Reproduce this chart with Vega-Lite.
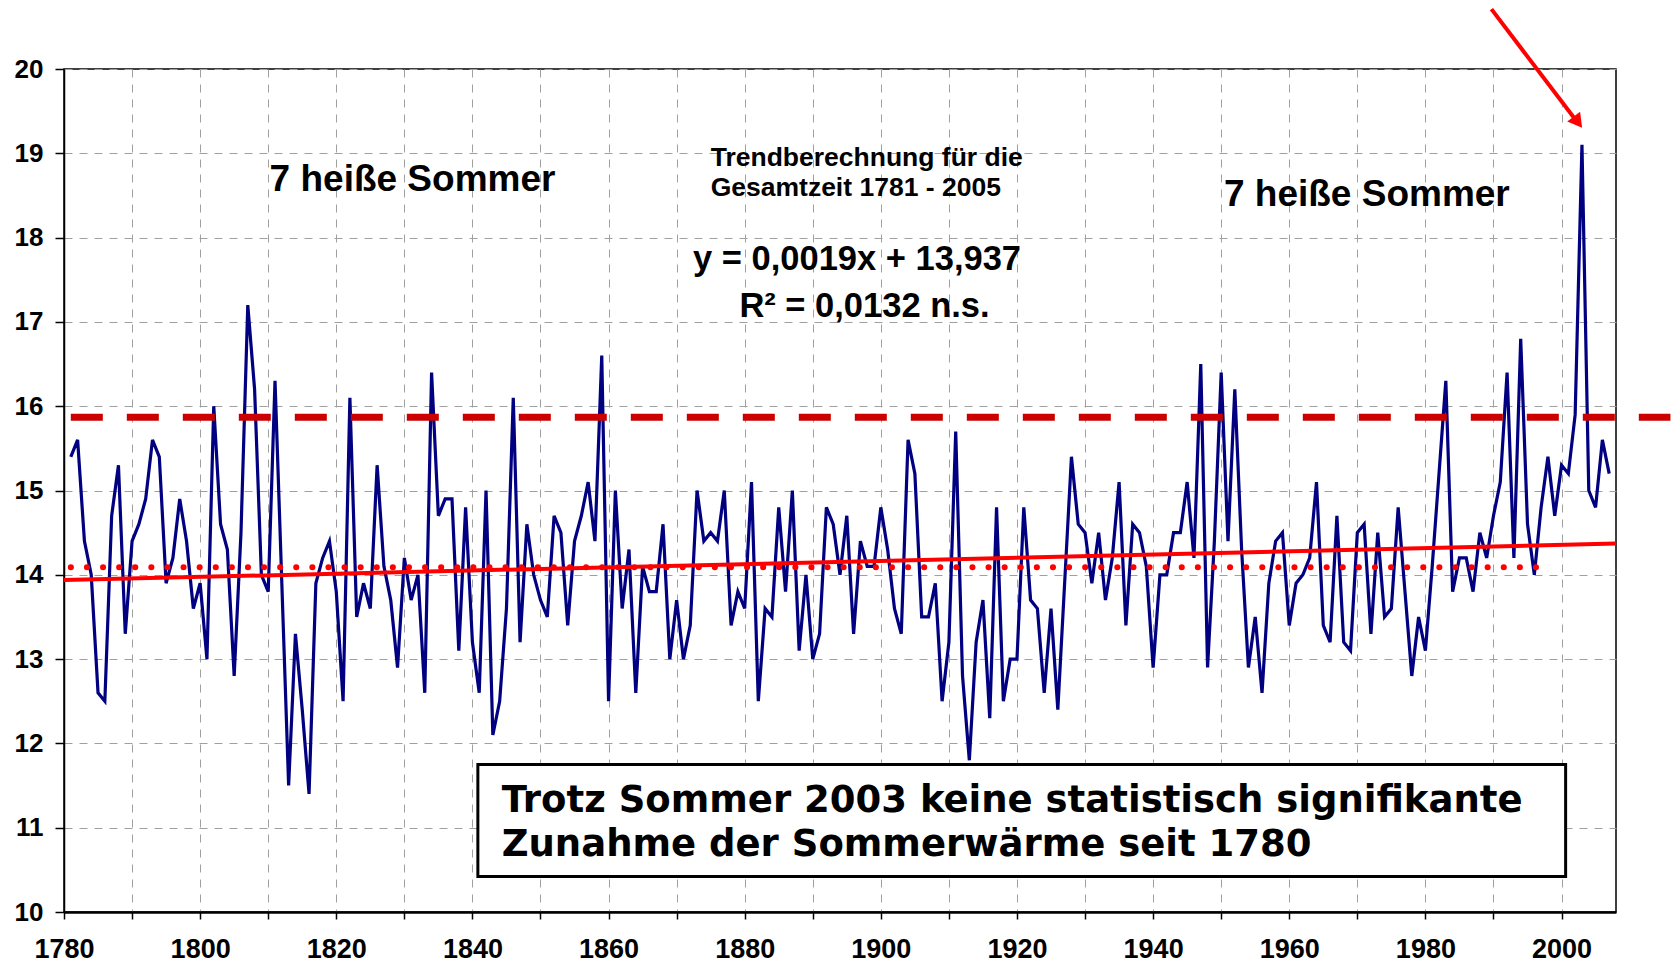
{
  "$schema": "https://vega.github.io/schema/vega-lite/v6.json",
  "width": 1552,
  "height": 843,
  "autosize": {"type": "none"},
  "padding": {"left": 64, "top": 69, "right": 57, "bottom": 50},
  "background": "white",
  "config": {
    "view": {"stroke": "#000000", "strokeWidth": 1.5},
    "text": {"font": "Liberation Sans", "fontWeight": "bold", "color": "#000000"}
  },
  "datasets": {
    "summer": [
      {"year":1781,"temp":15.4},{"year":1782,"temp":15.6},{"year":1783,"temp":14.4},{"year":1784,"temp":14.0},{"year":1785,"temp":12.6},
      {"year":1786,"temp":12.5},{"year":1787,"temp":14.7},{"year":1788,"temp":15.3},{"year":1789,"temp":13.3},{"year":1790,"temp":14.4},
      {"year":1791,"temp":14.6},{"year":1792,"temp":14.9},{"year":1793,"temp":15.6},{"year":1794,"temp":15.4},{"year":1795,"temp":13.9},
      {"year":1796,"temp":14.2},{"year":1797,"temp":14.9},{"year":1798,"temp":14.4},{"year":1799,"temp":13.6},{"year":1800,"temp":13.9},
      {"year":1801,"temp":13.0},{"year":1802,"temp":16.0},{"year":1803,"temp":14.6},{"year":1804,"temp":14.3},{"year":1805,"temp":12.8},
      {"year":1806,"temp":14.5},{"year":1807,"temp":17.2},{"year":1808,"temp":16.2},{"year":1809,"temp":14.0},{"year":1810,"temp":13.8},
      {"year":1811,"temp":16.3},{"year":1812,"temp":13.9},{"year":1813,"temp":11.5},{"year":1814,"temp":13.3},{"year":1815,"temp":12.4},
      {"year":1816,"temp":11.4},{"year":1817,"temp":13.9},{"year":1818,"temp":14.2},{"year":1819,"temp":14.4},{"year":1820,"temp":13.8},
      {"year":1821,"temp":12.5},{"year":1822,"temp":16.1},{"year":1823,"temp":13.5},{"year":1824,"temp":13.9},{"year":1825,"temp":13.6},
      {"year":1826,"temp":15.3},{"year":1827,"temp":14.1},{"year":1828,"temp":13.7},{"year":1829,"temp":12.9},{"year":1830,"temp":14.2},
      {"year":1831,"temp":13.7},{"year":1832,"temp":14.0},{"year":1833,"temp":12.6},{"year":1834,"temp":16.4},{"year":1835,"temp":14.7},
      {"year":1836,"temp":14.9},{"year":1837,"temp":14.9},{"year":1838,"temp":13.1},{"year":1839,"temp":14.8},{"year":1840,"temp":13.2},
      {"year":1841,"temp":12.6},{"year":1842,"temp":15.0},{"year":1843,"temp":12.1},{"year":1844,"temp":12.5},{"year":1845,"temp":13.6},
      {"year":1846,"temp":16.1},{"year":1847,"temp":13.2},{"year":1848,"temp":14.6},{"year":1849,"temp":14.0},{"year":1850,"temp":13.7},
      {"year":1851,"temp":13.5},{"year":1852,"temp":14.7},{"year":1853,"temp":14.5},{"year":1854,"temp":13.4},{"year":1855,"temp":14.4},
      {"year":1856,"temp":14.7},{"year":1857,"temp":15.1},{"year":1858,"temp":14.4},{"year":1859,"temp":16.6},{"year":1860,"temp":12.5},
      {"year":1861,"temp":15.0},{"year":1862,"temp":13.6},{"year":1863,"temp":14.3},{"year":1864,"temp":12.6},{"year":1865,"temp":14.1},
      {"year":1866,"temp":13.8},{"year":1867,"temp":13.8},{"year":1868,"temp":14.6},{"year":1869,"temp":13.0},{"year":1870,"temp":13.7},
      {"year":1871,"temp":13.0},{"year":1872,"temp":13.4},{"year":1873,"temp":15.0},{"year":1874,"temp":14.4},{"year":1875,"temp":14.5},
      {"year":1876,"temp":14.4},{"year":1877,"temp":15.0},{"year":1878,"temp":13.4},{"year":1879,"temp":13.8},{"year":1880,"temp":13.6},
      {"year":1881,"temp":15.1},{"year":1882,"temp":12.5},{"year":1883,"temp":13.6},{"year":1884,"temp":13.5},{"year":1885,"temp":14.8},
      {"year":1886,"temp":13.8},{"year":1887,"temp":15.0},{"year":1888,"temp":13.1},{"year":1889,"temp":14.0},{"year":1890,"temp":13.0},
      {"year":1891,"temp":13.3},{"year":1892,"temp":14.8},{"year":1893,"temp":14.6},{"year":1894,"temp":14.0},{"year":1895,"temp":14.7},
      {"year":1896,"temp":13.3},{"year":1897,"temp":14.4},{"year":1898,"temp":14.1},{"year":1899,"temp":14.1},{"year":1900,"temp":14.8},
      {"year":1901,"temp":14.3},{"year":1902,"temp":13.6},{"year":1903,"temp":13.3},{"year":1904,"temp":15.6},{"year":1905,"temp":15.2},
      {"year":1906,"temp":13.5},{"year":1907,"temp":13.5},{"year":1908,"temp":13.9},{"year":1909,"temp":12.5},{"year":1910,"temp":13.2},
      {"year":1911,"temp":15.7},{"year":1912,"temp":12.8},{"year":1913,"temp":11.8},{"year":1914,"temp":13.2},{"year":1915,"temp":13.7},
      {"year":1916,"temp":12.3},{"year":1917,"temp":14.8},{"year":1918,"temp":12.5},{"year":1919,"temp":13.0},{"year":1920,"temp":13.0},
      {"year":1921,"temp":14.8},{"year":1922,"temp":13.7},{"year":1923,"temp":13.6},{"year":1924,"temp":12.6},{"year":1925,"temp":13.6},
      {"year":1926,"temp":12.4},{"year":1927,"temp":13.9},{"year":1928,"temp":15.4},{"year":1929,"temp":14.6},{"year":1930,"temp":14.5},
      {"year":1931,"temp":13.9},{"year":1932,"temp":14.5},{"year":1933,"temp":13.7},{"year":1934,"temp":14.2},{"year":1935,"temp":15.1},
      {"year":1936,"temp":13.4},{"year":1937,"temp":14.6},{"year":1938,"temp":14.5},{"year":1939,"temp":14.1},{"year":1940,"temp":12.9},
      {"year":1941,"temp":14.0},{"year":1942,"temp":14.0},{"year":1943,"temp":14.5},{"year":1944,"temp":14.5},{"year":1945,"temp":15.1},
      {"year":1946,"temp":14.2},{"year":1947,"temp":16.5},{"year":1948,"temp":12.9},{"year":1949,"temp":14.4},{"year":1950,"temp":16.4},
      {"year":1951,"temp":14.4},{"year":1952,"temp":16.2},{"year":1953,"temp":14.3},{"year":1954,"temp":12.9},{"year":1955,"temp":13.5},
      {"year":1956,"temp":12.6},{"year":1957,"temp":13.9},{"year":1958,"temp":14.4},{"year":1959,"temp":14.5},{"year":1960,"temp":13.4},
      {"year":1961,"temp":13.9},{"year":1962,"temp":14.0},{"year":1963,"temp":14.2},{"year":1964,"temp":15.1},{"year":1965,"temp":13.4},
      {"year":1966,"temp":13.2},{"year":1967,"temp":14.7},{"year":1968,"temp":13.2},{"year":1969,"temp":13.1},{"year":1970,"temp":14.5},
      {"year":1971,"temp":14.6},{"year":1972,"temp":13.3},{"year":1973,"temp":14.5},{"year":1974,"temp":13.5},{"year":1975,"temp":13.6},
      {"year":1976,"temp":14.8},{"year":1977,"temp":13.8},{"year":1978,"temp":12.8},{"year":1979,"temp":13.5},{"year":1980,"temp":13.1},
      {"year":1981,"temp":14.1},{"year":1982,"temp":15.2},{"year":1983,"temp":16.3},{"year":1984,"temp":13.8},{"year":1985,"temp":14.2},
      {"year":1986,"temp":14.2},{"year":1987,"temp":13.8},{"year":1988,"temp":14.5},{"year":1989,"temp":14.2},{"year":1990,"temp":14.7},
      {"year":1991,"temp":15.1},{"year":1992,"temp":16.4},{"year":1993,"temp":14.2},{"year":1994,"temp":16.8},{"year":1995,"temp":14.6},
      {"year":1996,"temp":14.0},{"year":1997,"temp":14.8},{"year":1998,"temp":15.4},{"year":1999,"temp":14.7},{"year":2000,"temp":15.3},
      {"year":2001,"temp":15.2},{"year":2002,"temp":15.9},{"year":2003,"temp":19.1},{"year":2004,"temp":15.0},{"year":2005,"temp":14.8},
      {"year":2006,"temp":15.6},{"year":2007,"temp":15.2}
    ],
    "one": [{}]
  },
  "data": {"name": "summer"},
  "layer": [
    {
      "mark": {"type": "line", "color": "#000080", "strokeWidth": 3.2, "strokeJoin": "miter"},
      "encoding": {
        "x": {
          "field": "year", "type": "quantitative",
          "scale": {"domain": [1780, 2008], "nice": false, "zero": false},
          "axis": {
            "title": null,
            "values": [1780,1790,1800,1810,1820,1830,1840,1850,1860,1870,1880,1890,1900,1910,1920,1930,1940,1950,1960,1970,1980,1990,2000],
            "format": "d",
            "labelExpr": "datum.value % 20 === 0 ? datum.label : ''",
            "grid": true, "gridDash": [8, 7], "gridColor": "#a0a0a0", "gridWidth": 1,
            "tickSize": 7, "tickColor": "#000000", "tickWidth": 1.5,
            "domainColor": "#000000", "domainWidth": 2.5,
            "labelFont": "Liberation Sans", "labelFontSize": 27, "labelFontWeight": "bold",
            "labelColor": "#000000", "labelPadding": 17, "labelFlush": false, "labelOverlap": false, "labelBound": false
          }
        },
        "y": {
          "field": "temp", "type": "quantitative",
          "scale": {"domain": [10, 20], "nice": false, "zero": false},
          "axis": {
            "title": null,
            "values": [10,11,12,13,14,15,16,17,18,19,20],
            "format": "d",
            "grid": true, "gridDash": [8, 7], "gridColor": "#a0a0a0", "gridWidth": 1,
            "tickSize": 9, "tickColor": "#000000", "tickWidth": 1.5,
            "domainColor": "#000000", "domainWidth": 1.5,
            "labelFont": "Liberation Sans", "labelFontSize": 26, "labelFontWeight": "bold",
            "labelColor": "#000000", "labelPadding": 12, "labelFlush": false, "labelOverlap": false
          }
        }
      }
    },
    {
      "data": {"name": "one"},
      "mark": {"type": "rule", "color": "#ff0000", "strokeWidth": 6, "strokeDash": [0.1, 16], "strokeCap": "round"},
      "encoding": {"x": {"datum": 1781}, "x2": {"datum": 1997.3}, "y": {"datum": 14.09}}
    },
    {
      "data": {"name": "one"},
      "mark": {"type": "rule", "color": "#ff0000", "strokeWidth": 4},
      "encoding": {"x": {"datum": 1780}, "x2": {"datum": 2008}, "y": {"datum": 13.937}, "y2": {"datum": 14.37}}
    },
    {
      "data": {"name": "one"},
      "mark": {"type": "rule", "color": "#cc0000", "strokeWidth": 7, "strokeDash": [32, 24]},
      "encoding": {"x": {"datum": 1781}, "x2": {"datum": 2016}, "y": {"datum": 15.87}}
    },
    {
      "data": {"name": "one"},
      "mark": {"type": "rule", "color": "#ff0000", "strokeWidth": 4},
      "encoding": {"x": {"datum": 1989.7}, "x2": {"datum": 2002.5}, "y": {"datum": 20.71}, "y2": {"datum": 19.35}}
    },
    {
      "data": {"name": "one"},
      "mark": {"type": "point", "shape": "triangle-down", "filled": true, "color": "#ff0000", "opacity": 1, "size": 260, "angle": -37},
      "encoding": {"x": {"datum": 2002.4}, "y": {"datum": 19.37}}
    },
    {
      "data": {"name": "one"},
      "mark": {"type": "rect", "fill": "#ffffff", "stroke": "#000000", "strokeWidth": 3},
      "encoding": {"x": {"datum": 1840.8}, "x2": {"datum": 2000.6}, "y": {"datum": 11.75}, "y2": {"datum": 10.42}}
    },
    {
      "data": {"name": "one"},
      "mark": {"type": "text", "font": "DejaVu Sans", "fontWeight": "bold", "fontSize": 37, "align": "left", "baseline": "middle"},
      "encoding": {"x": {"datum": 1844.3}, "y": {"datum": 11.317}, "text": {"value": "Trotz Sommer 2003 keine statistisch signifikante"}}
    },
    {
      "data": {"name": "one"},
      "mark": {"type": "text", "font": "DejaVu Sans", "fontWeight": "bold", "fontSize": 37, "align": "left", "baseline": "middle"},
      "encoding": {"x": {"datum": 1844.3}, "y": {"datum": 10.795}, "text": {"value": "Zunahme der Sommerwärme seit 1780"}}
    },
    {
      "data": {"name": "one"},
      "mark": {"type": "text", "fontSize": 37, "align": "center", "baseline": "alphabetic"},
      "encoding": {"x": {"datum": 1831.2}, "y": {"datum": 18.548}, "text": {"value": "7 heiße Sommer"}}
    },
    {
      "data": {"name": "one"},
      "mark": {"type": "text", "fontSize": 37, "align": "center", "baseline": "alphabetic"},
      "encoding": {"x": {"datum": 1971.4}, "y": {"datum": 18.378}, "text": {"value": "7 heiße Sommer"}}
    },
    {
      "data": {"name": "one"},
      "mark": {"type": "text", "fontSize": 26.5, "align": "left", "baseline": "alphabetic"},
      "encoding": {"x": {"datum": 1875.0}, "y": {"datum": 18.853}, "text": {"value": "Trendberechnung für die"}}
    },
    {
      "data": {"name": "one"},
      "mark": {"type": "text", "fontSize": 26.5, "align": "left", "baseline": "alphabetic"},
      "encoding": {"x": {"datum": 1875.0}, "y": {"datum": 18.488}, "text": {"value": "Gesamtzeit 1781 - 2005"}}
    },
    {
      "data": {"name": "one"},
      "mark": {"type": "text", "fontSize": 34.5, "align": "center", "baseline": "alphabetic"},
      "encoding": {"x": {"datum": 1896.5}, "y": {"datum": 17.618}, "text": {"value": "y = 0,0019x + 13,937"}}
    },
    {
      "data": {"name": "one"},
      "mark": {"type": "text", "fontSize": 34.5, "align": "center", "baseline": "alphabetic"},
      "encoding": {"x": {"datum": 1897.6}, "y": {"datum": 17.064}, "text": {"value": "R² = 0,0132 n.s."}}
    }
  ]
}
